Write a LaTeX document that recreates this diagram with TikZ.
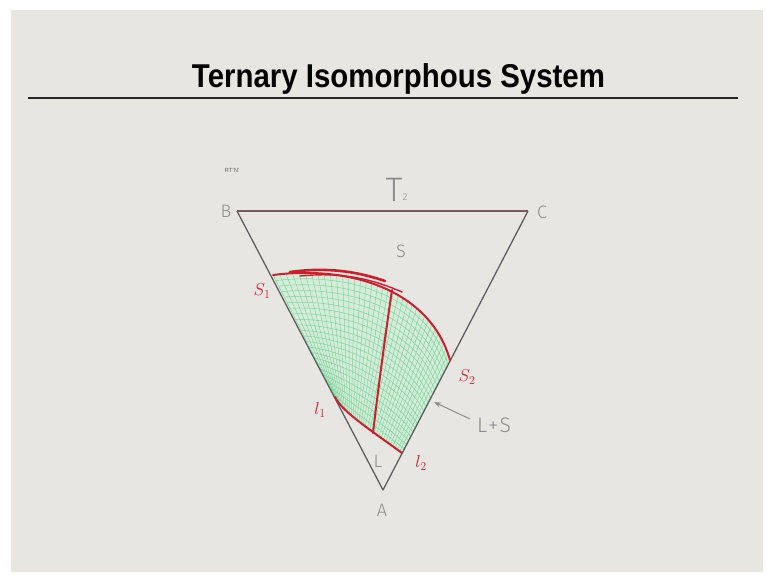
\documentclass[tikz,border=0pt]{standalone}
\usepackage{fontspec}
\setmainfont{Liberation Sans}
\newfontfamily\thinsans{Fira Sans Light}
\newfontfamily\handfont{Liberation Serif}
\usetikzlibrary{calc,arrows.meta}
\definecolor{slidebg}{RGB}{232,230,225}
\definecolor{meshgreen}{RGB}{125,215,155}
\definecolor{meshfill}{RGB}{214,236,218}
\definecolor{redink}{RGB}{205,30,45}
\definecolor{linegray}{RGB}{95,95,95}
\definecolor{topline}{RGB}{120,88,95}
\definecolor{labelgray}{RGB}{140,140,140}
\tikzset{
  edge/.style={draw=linegray, line width=1.3pt},
  topedge/.style={draw=topline, line width=1.6pt},
  redline/.style={draw=redink, line width=2pt, line cap=round, line join=round},
  meshline/.style={draw=meshgreen, line width=0.5pt},
  vlabel/.style={text=labelgray, font=\thinsans\fontsize{18}{18}\selectfont, inner sep=0pt},
  redlabel/.style={text=redink, font=\handfont\itshape\fontsize{17}{17}\selectfont, inner sep=0pt},
}
\begin{document}
\begin{tikzpicture}[x=1pt,y=-1pt]
\useasboundingbox (0,0) rectangle (767,579);
\fill[white] (0,0) rectangle (767,579);
\fill[slidebg] (11,10) rectangle (763,572);

% title and rule
\node[anchor=base, inner sep=0pt, font=\bfseries\fontsize{33}{36}\selectfont] (title) at (398.5,87)
  {\resizebox{413pt}{\height}{Ternary Isomorphous System}};
\coordinate (ruleL) at (28,98);
\coordinate (ruleR) at (738,98);
\draw[line width=2.6pt, black!85] (ruleL) -- (ruleR);

% triangle vertices
\coordinate (A) at (383,490);
\coordinate (B) at (237,211);
\coordinate (C) at (528,211);

% boundary points
\coordinate (S1) at (273,275);
\coordinate (S2) at (450,360);
\coordinate (L1) at (335,397);
\coordinate (L2) at (402,453);

% mesh coordinates (bilinear between solidus and liquidus curves)
\foreach \i in {0,...,36}{
  \pgfmathsetmacro\tt{\i/36}
  \pgfmathsetmacro\ca{(1-\tt)^3}
  \pgfmathsetmacro\cb{3*(1-\tt)^2*\tt}
  \pgfmathsetmacro\cc{3*(1-\tt)*\tt^2}
  \pgfmathsetmacro\cd{\tt^3}
  \coordinate (t\i) at ({\ca*273+\cb*350+\cc*430+\cd*450},{\ca*275+\cb*265+\cc*290+\cd*360});
  \coordinate (b\i) at ({\ca*335+\cb*342+\cc*375+\cd*402},{\ca*397+\cb*412+\cc*433+\cd*453});
}

% green filled region
\fill[meshfill] (S1) .. controls (350,265) and (430,290) .. (S2) -- (L2)
  .. controls (375,433) and (342,412) .. (L1) -- cycle;
\foreach \i in {0,...,36}{
  \draw[meshline] (t\i) -- (b\i);
}
\foreach \j in {1,...,21}{
  \pgfmathsetmacro\vv{\j/22}
  \foreach \i [evaluate=\i as \k using {int(\i+1)}] in {0,...,35}{
    \draw[meshline] ($(t\i)!\vv!(b\i)$) -- ($(t\k)!\vv!(b\k)$);
  }
}

% triangle
\draw[edge, line join=round] (B) -- (A) -- (C);
\draw[topedge] (B) -- (C);

% red curves
\draw[redline] (S1) .. controls (350,265) and (430,290) .. (S2);
\draw[redline, line width=2.6pt] (290,272) .. controls (320,268) and (350,269) .. (385,281);
\draw[redline, line width=1.4pt] (300,276) .. controls (340,272) and (370,278) .. (402,292);
\draw[redline] (L1) .. controls (342,412) and (375,433) .. (L2);
\coordinate (tieTop) at (392,290);
\coordinate (tieBot) at (373,433);
\draw[redline] (tieTop) .. controls (386,330) and (378,390) .. (tieBot);

% gray labels
\node[vlabel] (labB) at (226,211) {B};
\node[vlabel] (labC) at (542,212) {C};
\node[vlabel] (labA) at (382,510) {A};
\node[vlabel] (labS) at (401,251) {S};
\node[vlabel] (labL) at (378,461) {L};
\node[vlabel, font=\thinsans\fontsize{21}{21}\selectfont] (labLS) at (494,425) {L\kern1pt+\kern1pt S};
\node[vlabel, font=\thinsans\fontsize{34}{34}\selectfont] (labT) at (394,190) {T};
\node[vlabel, font=\thinsans\fontsize{10}{10}\selectfont] (labT2) at (405,197) {2};
\node[inner sep=0pt, text=black!60, font=\fontsize{6}{6}\selectfont] (scrib) at (232,170) {RT'N'};

% arrow to L+S region
\coordinate (arrTail) at (470,419);
\coordinate (arrTip) at (434,402);
\draw[draw=labelgray, line width=1pt, -{Stealth[length=7pt,width=5pt]}] (arrTail) -- (arrTip);

% red handwritten labels
\node[redlabel] (labS1) at (262,291) {$S_1$};
\node[redlabel] (labS2) at (467,377) {$S_2$};
\node[redlabel] (labL1) at (320,410) {$l_1$};
\node[redlabel] (labL2) at (421,463) {$l_2$};
\end{tikzpicture}
\end{document}
